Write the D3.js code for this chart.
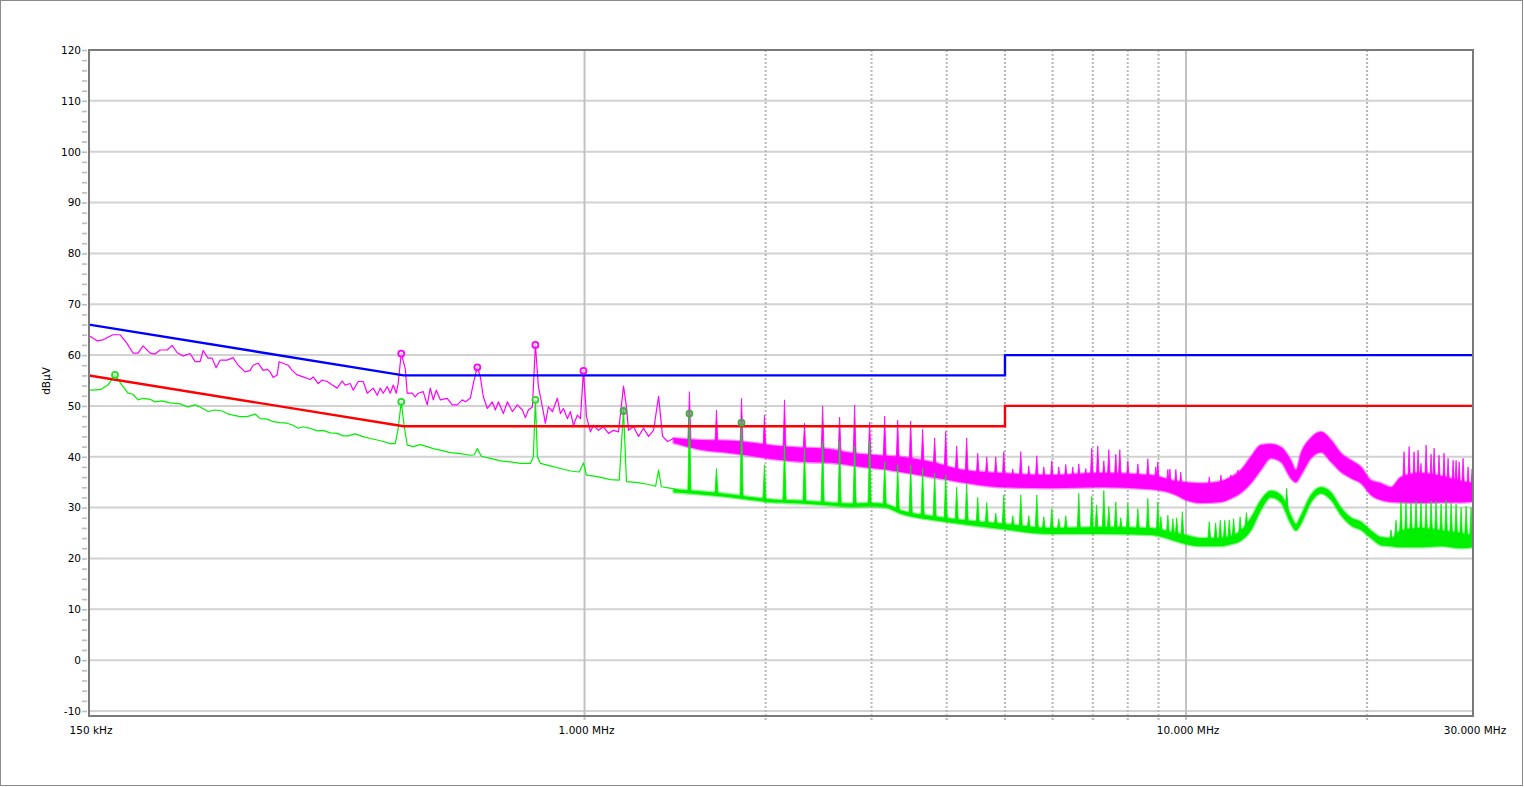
<!DOCTYPE html>
<html><head><meta charset="utf-8">
<script src="https://cdn.jsdelivr.net/npm/d3@7"></script>
<style>
html,body{margin:0;padding:0;background:#fff;}
svg{display:block;}
text{font-family:"DejaVu Sans",Verdana,sans-serif;font-size:10.5px;fill:#000;}
</style></head><body>
<svg id="c" width="1524" height="787"></svg>
<script>
// ---------- axis data ----------
const yLabelValues = [120,110,100,90,80,70,60,50,40,30,20,10,0,-10];
const yMinorValues = [120,118,116,114,112,110,108,106,104,102,100,98,96,94,92,90,88,86,84,82,80,78,76,74,72,70,68,66,64,62,60,58,56,54,52,50,48,46,44,42,40,38,36,34,32,30,28,26,24,22,20,18,16,14,12,10,8,6,4,2,0,-2,-4,-6,-8,-10];
const xLabelFreqs = [0.15, 1, 10, 30];
const xLabelTexts = ["150 kHz", "1.000 MHz", "10.000 MHz", "30.000 MHz"];
const solidGridFreqs = [1, 10];
const dottedGridFreqs = [2, 3, 4, 5, 6, 7, 8, 9, 20];
const yTitle = "dBµV";

// ---------- limit lines ----------
const limitFreqs = [0.15, 0.5, 5, 5, 30];
const qpLimit = [66, 56, 56, 60, 60];
const avLimit = [56, 46, 46, 50, 50];

// ---------- peak trace (magenta), low-frequency part ----------
const pkLineF = [0.1506,0.1547,0.1583,0.1644,0.1689,0.1735,0.1775,0.1810,0.1845,0.1895,0.1932,0.1969,0.2023,0.2062,0.2101,0.2150,0.2209,0.2252,0.2295,0.2322,0.2366,0.2403,0.2440,0.2478,0.2545,0.2604,0.2655,0.2727,0.2780,0.2812,0.2866,0.2922,0.2967,0.3001,0.3036,0.3083,0.3106,0.3154,0.3215,0.3265,0.3328,0.3405,0.3498,0.3539,0.3607,0.3663,0.3733,0.3806,0.3879,0.3954,0.4000,0.4077,0.4125,0.4204,0.4286,0.4352,0.4453,0.4522,0.4574,0.4627,0.4698,0.4753,0.4808,0.4863,0.4900,0.4957,0.5033,0.5072,0.5170,0.5230,0.5290,0.5392,0.5476,0.5540,0.5604,0.5669,0.5756,0.5912,0.6027,0.6143,0.6262,0.6335,0.6457,0.6532,0.6633,0.6710,0.6788,0.6892,0.7025,0.7106,0.7189,0.7329,0.7442,0.7585,0.7732,0.7883,0.7974,0.8064,0.8190,0.8285,0.8381,0.8509,0.8607,0.8707,0.8843,0.9013,0.9118,0.9223,0.9365,0.9473,0.9583,0.9732,0.9844,0.9958,1.0074,1.0228,1.0347,1.0547,1.0750,1.0960,1.1172,1.1388,1.1608,1.1742,1.1832,1.2063,1.2296,1.2534,1.2776,1.3023,1.3277,1.3480,1.3741,1.4061,1.4445];
const pkLineV = [63.7,62.8,63.0,64.0,64.0,62.3,60.4,60.4,61.8,60.4,60.2,61.0,61.0,61.9,60.5,59.8,60.3,58.7,58.7,60.9,59.4,59.4,57.5,59.0,59.0,59.5,58.0,56.7,57.0,58.0,58.4,57.0,57.2,56.7,55.6,56.1,58.7,58.4,58.0,57.0,56.1,55.7,55.2,55.7,54.4,55.1,54.8,54.1,53.5,54.9,54.1,54.4,53.1,54.8,54.8,52.5,53.5,52.1,53.5,52.5,53.8,52.5,54.1,52.5,54.5,60.3,57.4,52.5,52.5,51.8,52.5,52.8,50.2,53.5,51.2,53.1,51.2,51.5,50.2,50.2,51.2,50.8,51.5,54.4,57.7,55.7,51.8,49.5,50.8,49.2,50.8,48.5,50.8,48.9,50.2,49.2,47.7,49.2,49.8,62.0,53.8,49.8,46.6,49.8,48.9,51.5,48.5,49.5,47.5,48.9,46.2,48.2,47.5,56.9,47.9,44.9,46.2,45.2,45.9,44.6,45.2,44.9,53.9,49.8,45.2,45.9,44.0,45.6,44.0,45.2,51.9,44.0,43.0,43.6,42.6];

// ---------- average trace (green), low-frequency part ----------
const avLineF = [0.1506,0.1565,0.1613,0.1657,0.1702,0.1742,0.1775,0.1810,0.1845,0.1895,0.1932,0.1984,0.2046,0.2126,0.2192,0.2252,0.2295,0.2366,0.2431,0.2497,0.2545,0.2604,0.2675,0.2748,0.2834,0.2888,0.2967,0.3036,0.3118,0.3203,0.3277,0.3341,0.3405,0.3498,0.3593,0.3676,0.3777,0.3879,0.3969,0.4046,0.4156,0.4269,0.4403,0.4522,0.4627,0.4753,0.4845,0.4900,0.4957,0.5015,0.5072,0.5190,0.5331,0.5476,0.5604,0.5756,0.5981,0.6215,0.6457,0.6558,0.6633,0.6734,0.6972,0.7244,0.7528,0.7821,0.8127,0.8220,0.8285,0.8348,0.8444,0.8772,0.9118,0.9473,0.9803,0.9958,1.0074,1.0506,1.1037,1.1421,1.1608,1.1742,1.2249,1.2720,1.3125,1.3277,1.3416,1.3941,1.4445];
const avLineV = [53.1,53.2,54.1,56.1,54.1,52.5,52.3,51.2,51.5,51.3,50.8,51.0,50.6,50.4,49.8,50.2,49.8,48.9,49.2,49.0,48.5,48.2,47.9,47.9,48.4,47.5,47.4,46.9,46.7,46.6,46.2,45.6,45.9,45.6,45.1,45.2,44.7,44.6,44.1,44.1,44.5,44.0,43.6,43.3,43.0,42.6,42.6,45.6,50.8,45.9,42.3,42.0,42.4,42.0,41.6,41.3,40.8,40.6,40.3,40.4,41.6,40.1,39.7,39.2,39.0,38.7,38.7,40.0,51.2,40.0,38.7,38.2,37.7,37.2,37.0,38.8,36.4,36.1,35.5,35.4,49.2,35.1,34.9,34.6,34.2,37.4,34.1,33.8,33.3];

// ---------- high-frequency noise bands (min / max envelope) ----------
const bandF = [1.406,1.559,1.728,1.888,2.062,2.286,2.565,2.769,2.990,3.167,3.354,3.762,4.221,4.920,5.958,7.216,8.740,9.618,10.0,10.58,11.43,11.87,12.34,12.82,13.32,13.84,14.38,14.94,15.23,15.53,16.13,16.77,17.42,18.10,18.81,19.54,20.30,21.09,21.92,22.77,24.58,26.55,28.66,30.0];
const pkBandLo = [42.7,41.4,40.8,40.2,39.5,39.0,38.8,38.3,37.8,37.5,37.0,36.0,35.0,34.0,33.8,34.0,33.6,32.5,31.5,30.9,31.1,31.8,32.9,34.8,37.4,39.7,39.0,35.8,35.0,36.4,39.7,40.9,39.0,37.0,35.8,34.8,32.5,31.5,31.1,31.0,30.9,31.0,31.0,31.2];
const pkBandHi = [43.7,43.3,43.2,42.8,42.2,41.8,41.5,40.8,40.4,40.2,40.0,39.0,37.5,36.8,36.4,36.8,36.4,35.2,35.0,34.8,35.2,36.0,37.4,40.0,42.3,42.5,41.9,39.3,37.4,40.7,43.7,44.9,43.3,40.7,39.3,38.0,35.4,34.8,34.0,36.0,36.8,36.2,35.2,34.8];
const avBandLo = [33.0,32.6,32.1,31.5,31.0,30.8,30.4,30.1,30.2,30.0,28.8,27.6,26.8,25.8,24.8,24.8,24.6,23.4,22.8,22.4,22.4,22.8,23.5,25.5,29.5,32.0,31.0,26.8,25.5,26.8,31.0,32.8,31.5,28.5,26.5,25.6,24.0,22.6,22.4,22.2,22.2,22.4,22.0,22.2];
const avBandHi = [33.6,33.2,32.7,32.1,31.6,31.4,31.0,30.8,30.9,30.7,29.5,28.4,27.6,26.9,26.0,26.2,26.0,25.0,24.6,24.0,24.0,24.4,25.5,28.0,31.5,33.3,32.5,28.5,26.8,28.5,32.5,34.0,33.0,30.0,28.0,27.2,25.5,24.2,24.0,25.5,26.0,25.5,25.0,24.5];

// ---------- harmonic spikes standing on the bands ----------
const pkSpikeF = [1.494,1.657,1.824,1.991,2.150,2.321,2.488,2.655,2.812,2.978,3.155,3.316,3.485,3.648,3.820,3.985,4.156,4.318,4.505,4.663,4.827,4.977,5.152,5.312,5.477,5.648,5.802,5.982,6.144,6.311,6.482,6.633,6.813,6.971,7.133,7.300,7.441,7.643,7.761,8.003,8.316,8.640,8.907,8.976,9.328,9.40,9.618,9.80,10.93,11.43,11.87,12.20,23.04,23.49,23.94,24.31,24.58,25.07,25.55,25.85,26.34,26.85,27.27,27.80,28.12,28.45,28.88,29.44,29.90];
const pkSpikeV = [52.8,49.2,51.5,48.2,51.2,46.6,50.0,47.8,50.2,46.8,48.0,47.2,47.0,45.4,43.7,45.0,42.1,43.7,40.7,40.0,40.0,41.0,37.6,41.0,38.2,40.2,38.0,39.2,38.0,38.5,38.0,38.6,37.7,41.7,42.1,39.2,41.4,40.5,41.4,39.2,38.6,39.6,38.0,39.0,37.5,37.6,37.5,37.0,36.0,36.4,36.4,37.4,41.0,42.0,41.0,41.3,38.7,42.3,40.5,41.7,40.3,40.7,39.7,39.3,39.3,39.0,39.7,38.0,37.6];
const avSpikeF = [1.494,1.657,1.824,1.991,2.150,2.321,2.488,2.655,2.812,2.978,3.155,3.316,3.485,3.648,3.820,3.985,4.156,4.318,4.505,4.663,4.827,4.977,5.152,5.312,5.477,5.648,5.802,5.982,6.144,6.311,6.633,6.971,7.10,7.300,7.441,7.643,7.79,8.003,8.316,8.640,8.976,9.08,9.328,9.508,9.65,9.86,10.93,11.2,11.4,11.6,11.8,12.0,12.3,12.6,14.7,21.92,22.34,22.77,23.21,23.66,24.12,24.58,25.07,25.55,26.04,26.55,27.06,27.59,28.12,28.66,29.22,29.78];
const avSpikeV = [48.5,37.7,46.7,38.4,42.3,41.6,43.0,43.0,42.0,43.0,39.0,38.4,38.4,37.8,36.8,36.4,34.0,34.8,32.0,31.0,28.9,32.5,28.4,32.5,28.4,32.5,28.2,29.8,27.8,28.4,32.8,32.2,30.5,33.4,30.2,31.1,28.0,30.8,29.8,31.8,31.1,28.2,28.5,27.8,28.0,29.2,27.2,27.0,27.5,27.5,27.6,27.8,28.2,29.0,33.8,25.6,27.5,31.1,31.1,30.9,31.3,31.1,30.9,31.3,31.3,30.7,31.5,30.9,30.7,30.0,30.3,30.0];

// ---------- markers ----------
const pkMarkF = [0.4957, 0.6633, 0.8285, 0.9958];
const pkMarkV = [60.3, 57.6, 62.0, 56.9];
const avMarkF = [0.1657, 0.4957, 0.8285, 1.1608, 1.4942, 1.8237];
const avMarkV = [56.1, 50.8, 51.2, 49.0, 48.5, 46.7];
const avMarkDark = [false, false, false, true, true, true];

// ---------- colours ----------
const C_PK = "#ff00ff", C_AV = "#00f000", C_QP = "#0000ff", C_AVL = "#ff0000";

// ================= drawing =================
const svg = d3.select("#c");
const L = 89, R = 1473, T = 50, B = 716;
const x = d3.scaleLog().domain([0.15, 30]).range([L, R]);
const y = d3.scaleLinear().domain([-10, 120]).range([711, T]);

svg.append("rect").attr("x", 0.5).attr("y", 0.5).attr("width", 1522).attr("height", 785)
  .attr("fill", "#fff").attr("stroke", "#8a8a8a").attr("stroke-width", 1);

// horizontal grid
svg.append("g").selectAll("line").data(yLabelValues).join("line")
  .attr("x1", L).attr("x2", R).attr("y1", d => y(d)).attr("y2", d => y(d))
  .attr("stroke", "#d2d2d2").attr("stroke-width", 2);

// vertical grid
svg.append("g").selectAll("line").data(solidGridFreqs).join("line")
  .attr("x1", d => x(d)).attr("x2", d => x(d)).attr("y1", T).attr("y2", B + 4)
  .attr("stroke", "#c2c2c2").attr("stroke-width", 2);
svg.append("g").selectAll("line").data(dottedGridFreqs).join("line")
  .attr("x1", d => x(d)).attr("x2", d => x(d)).attr("y1", T).attr("y2", B + 4)
  .attr("stroke", "#b8b8b8").attr("stroke-width", 2).attr("stroke-dasharray", "2,2");

// y minor ticks
const yTickAxis = d3.axisLeft(y).tickValues(yMinorValues).tickSize(5).tickFormat("");
const gyt = svg.append("g").attr("transform", `translate(${L - 2},0)`).call(yTickAxis);
gyt.select(".domain").remove();
gyt.selectAll("line").attr("stroke", "#bdbdbd").attr("stroke-width", 1.6);

// y labels
const yLabAxis = d3.axisLeft(y).tickValues(yLabelValues).tickSize(0).tickPadding(8).tickFormat(d => d);
const gyl = svg.append("g").attr("transform", `translate(${L},0)`).call(yLabAxis);
gyl.select(".domain").remove();
gyl.selectAll("text").attr("font-family", '"DejaVu Sans",Verdana,sans-serif').attr("font-size", 10.5).attr("fill", "#000");

// x labels
svg.append("g").selectAll("text").data(xLabelFreqs).join("text")
  .attr("x", (d) => x(d) + 2).attr("y", 734).attr("text-anchor", "middle")
  .text((d, i) => xLabelTexts[i]);

// y title
svg.append("text").attr("transform", "translate(50,381) rotate(-90)")
  .attr("text-anchor", "middle").text(yTitle);

// plot clip
svg.append("clipPath").attr("id", "clip").append("rect")
  .attr("x", L).attr("y", T).attr("width", R - L).attr("height", B - T);
const plot = svg.append("g").attr("clip-path", "url(#clip)");

const lf = Math.log10;
function drawTrace(lineF, lineV, lo, hi, spF, spV, color) {
  const g = plot.append("g");
  // band: soft fuzzy edge + solid core
  const bd = bandF.map((f, i) => [f, lo[i], hi[i]]);
  const area = d3.area().x(d => x(d[0])).y0(d => y(d[1])).y1(d => y(d[2])).curve(d3.curveMonotoneX);
  g.append("path").datum(bd).attr("d", area)
    .attr("fill", color).attr("stroke", color).attr("stroke-width", 2.6)
    .attr("stroke-opacity", 0.45).attr("stroke-linejoin", "round");
  // spikes
  const mid = d3.scaleLinear().domain(bandF.map(lf)).range(bandF.map((f, i) => (lo[i] + hi[i]) / 2)).clamp(true);
  g.selectAll("path.sp").data(spF.map((f, i) => [f, spV[i]])).join("path")
    .attr("class", "sp")
    .attr("d", d => {
      const cx = x(d[0]), yb = y(mid(lf(d[0]))), yt = y(d[1]);
      return `M${cx - 1.6},${yb}L${cx},${yt}L${cx + 1.6},${yb}Z`;
    })
    .attr("fill", color).attr("stroke", color).attr("stroke-width", 0.8).attr("stroke-linejoin", "round");
  // line
  g.append("path").datum(lineF.map((f, i) => [f, lineV[i]]))
    .attr("d", d3.line().x(d => x(d[0])).y(d => y(d[1])))
    .attr("fill", "none").attr("stroke", color).attr("stroke-width", 1.2).attr("stroke-linejoin", "round");
}
drawTrace(pkLineF, pkLineV, pkBandLo, pkBandHi, pkSpikeF, pkSpikeV, C_PK);
drawTrace(avLineF, avLineV, avBandLo, avBandHi, avSpikeF, avSpikeV, C_AV);

// limit lines
const limLine = d3.line().x(d => x(d[0])).y(d => y(d[1]));
plot.append("path").datum(limitFreqs.map((f, i) => [f, qpLimit[i]]))
  .attr("d", limLine).attr("fill", "none").attr("stroke", C_QP).attr("stroke-width", 2.4);
plot.append("path").datum(limitFreqs.map((f, i) => [f, avLimit[i]]))
  .attr("d", limLine).attr("fill", "none").attr("stroke", C_AVL).attr("stroke-width", 2.4);

// markers
svg.append("g").selectAll("circle").data(pkMarkF.map((f, i) => [f, pkMarkV[i]])).join("circle")
  .attr("cx", d => x(d[0])).attr("cy", d => y(d[1])).attr("r", 3)
  .attr("fill", "#fff").attr("fill-opacity", 0.6).attr("stroke", C_PK).attr("stroke-width", 1.8);
svg.append("g").selectAll("circle").data(avMarkF.map((f, i) => [f, avMarkV[i], avMarkDark[i]])).join("circle")
  .attr("cx", d => x(d[0])).attr("cy", d => y(d[1])).attr("r", 3)
  .attr("fill", d => d[2] ? "#8a8a8a" : "#fff").attr("fill-opacity", 0.6)
  .attr("stroke", d => d[2] ? "#3fae3f" : "#22e022").attr("stroke-width", 1.8);

// plot frame
svg.append("rect").attr("x", L).attr("y", T).attr("width", R - L).attr("height", B - T)
  .attr("fill", "none").attr("stroke", "#7a7a7a").attr("stroke-width", 2);
</script>
</body></html>
